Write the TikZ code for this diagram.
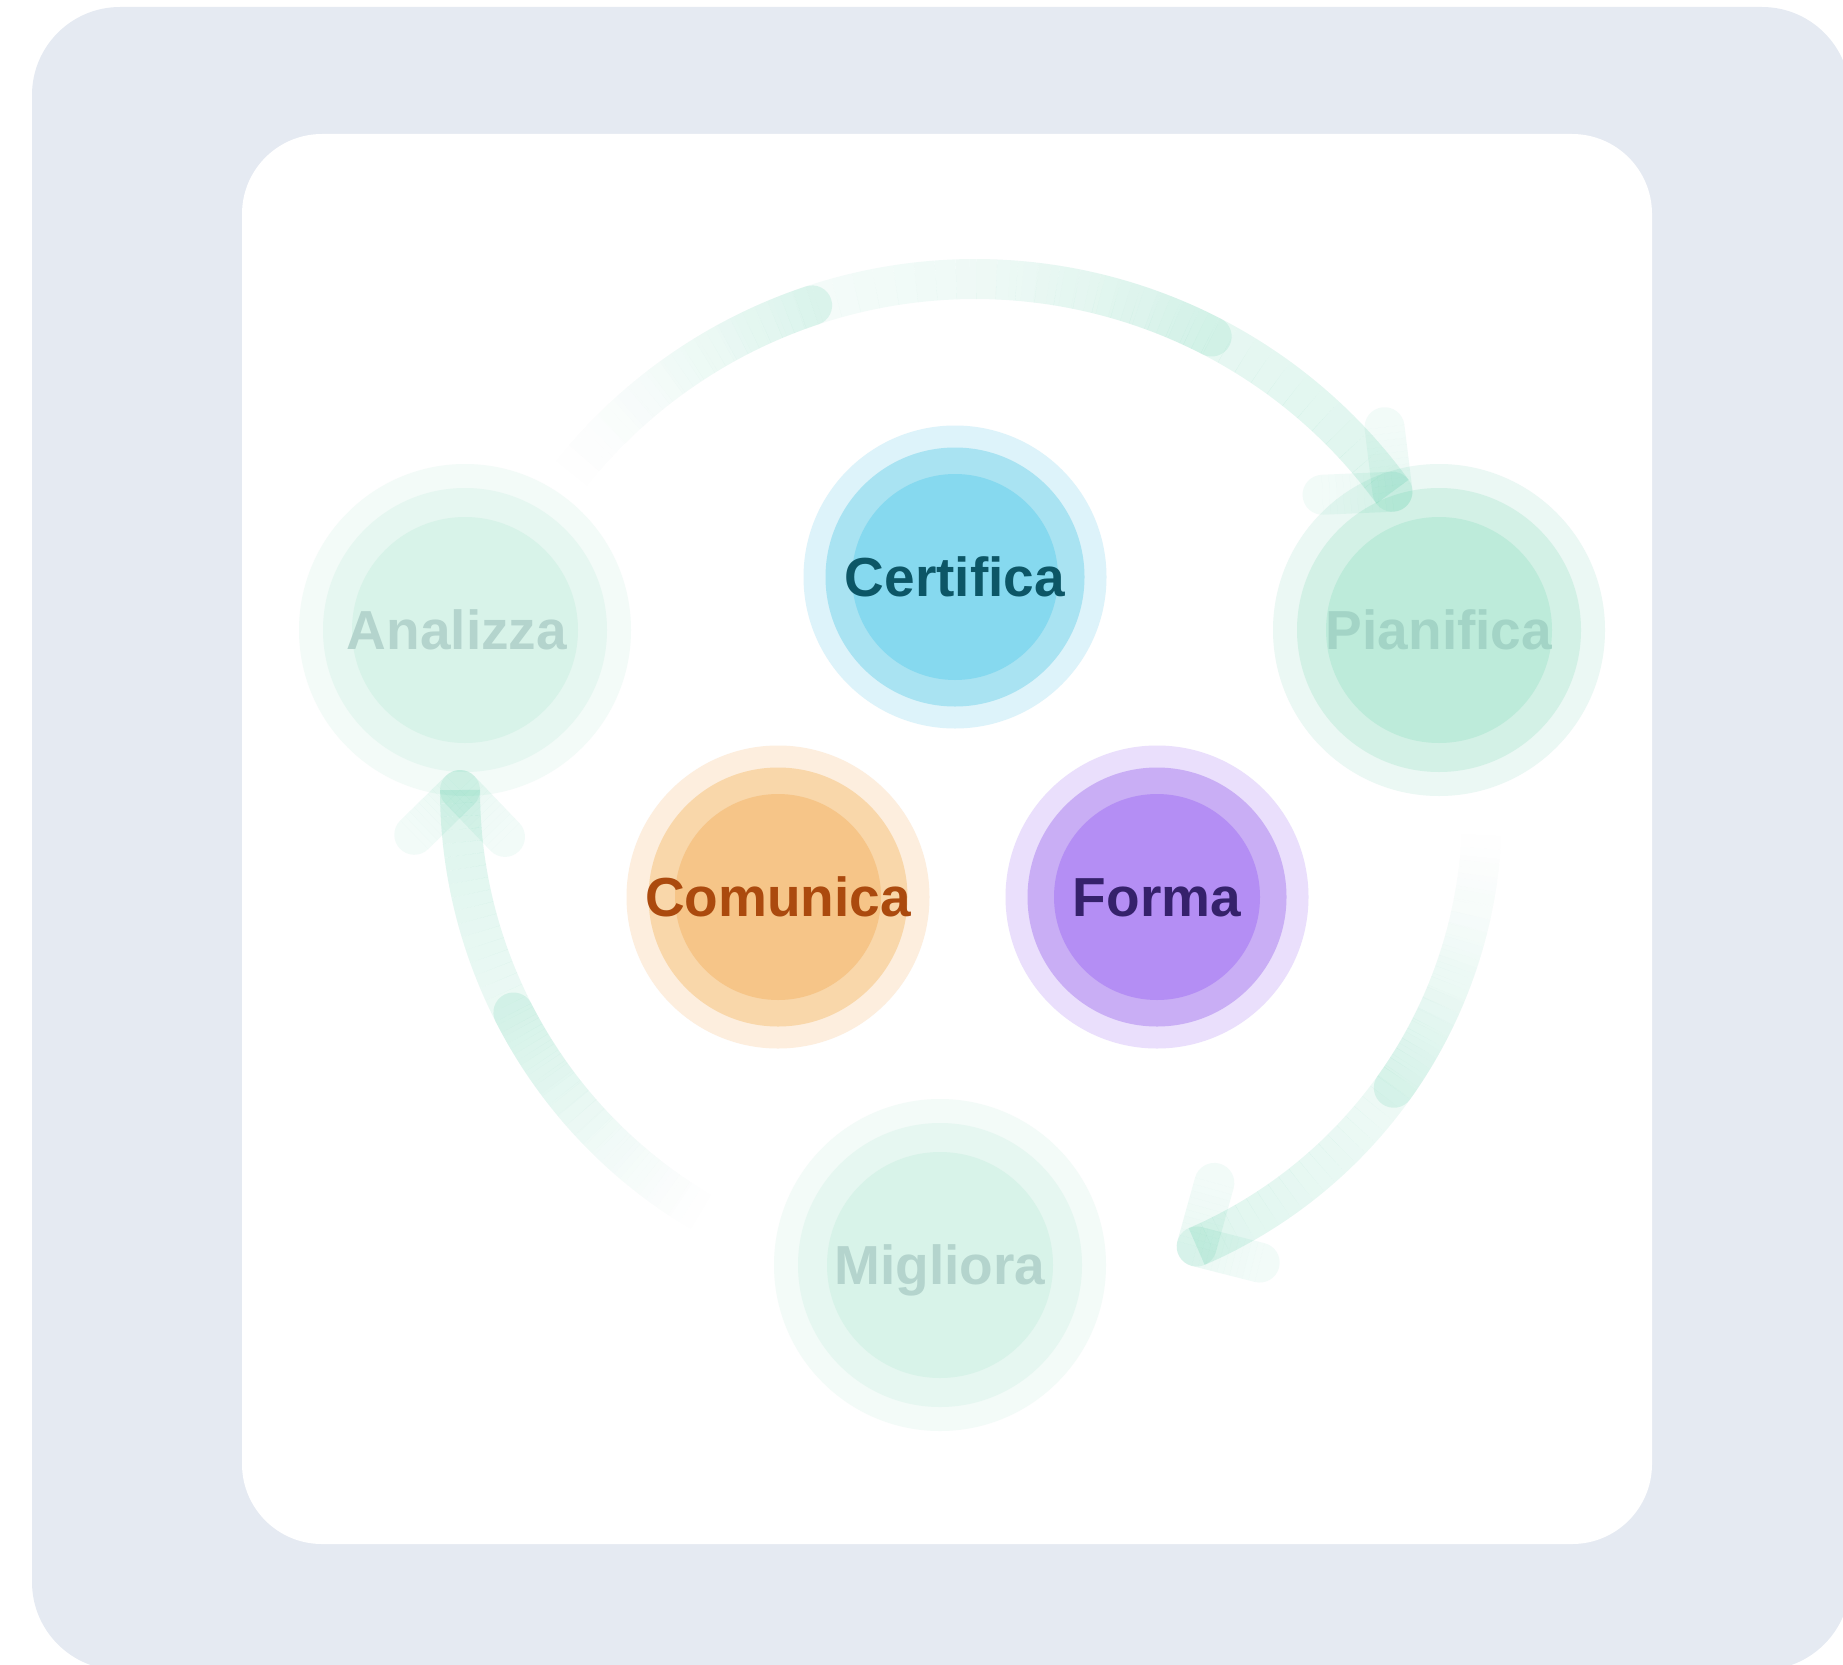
\documentclass[tikz,border=0pt]{standalone}
\usepackage{fontspec}
\setmainfont{Liberation Sans}
\usetikzlibrary{calc}
\definecolor{bgout}{HTML}{E5EAF2}
\definecolor{arcgreen}{HTML}{10B981}
\definecolor{cA}{HTML}{DDF3FA}\definecolor{cB}{HTML}{A9E3F2}\definecolor{cC}{HTML}{86D9EF}\definecolor{cT}{HTML}{0C5666}
\definecolor{oA}{HTML}{FDEEDE}\definecolor{oB}{HTML}{F9D7AA}\definecolor{oC}{HTML}{F6C588}\definecolor{oT}{HTML}{AB4A0E}
\definecolor{fA}{HTML}{EADFFC}\definecolor{fB}{HTML}{C9AEF5}\definecolor{fC}{HTML}{B48EF4}\definecolor{fT}{HTML}{35216B}
\definecolor{pA}{HTML}{EBF8F4}\definecolor{pB}{HTML}{D3F1E6}\definecolor{pC}{HTML}{BDEBDA}\definecolor{pT}{HTML}{A3D4C6}
\definecolor{gA}{HTML}{F3FBF8}\definecolor{gB}{HTML}{E6F7F1}\definecolor{gC}{HTML}{D8F3E9}\definecolor{gT}{HTML}{B4D4CD}
% gradient arc: center, radius, t1, t2, opacity1, opacity2, pieces, exponent
\newcommand\garc[8]{%
  \foreach \k in {1,...,#7}{%
    \pgfmathsetmacro\gTa{#3+(#4-#3)*(\k-1)/#7}%
    \pgfmathsetmacro\gTb{#3+(#4-#3)*\k/#7}%
    \pgfmathsetmacro\gOp{#5+(#6-#5)*((\k-0.5)/#7)^#8}%
    \draw[arcband, draw opacity=\gOp] (#1) ++(\gTa:#2) arc[start angle=\gTa, end angle=\gTb, radius=#2];%
  }%
}
% half-disc cap on an arc: center, radius, angle, opacity, direction (+1 forward, -1 backward)
\newcommand\gcap[5]{%
  \pgfmathsetmacro\gCe{#3+180*#5}%
  \fill[arcgreen, fill opacity=#4] (#1) ++(#3:#2) ++(#3:20) arc[start angle=#3, end angle=\gCe, radius=20] -- cycle;%
}
% gradient straight stroke from a tip: tip, angle, length, opacity at tip, opacity at free end
\newcommand\gline[5]{%
  \foreach \k in {1,...,10}{%
    \pgfmathsetmacro\gSa{#3*(\k-1)/10}%
    \pgfmathsetmacro\gSb{#3*\k/10}%
    \pgfmathsetmacro\gOp{#4+(#5-#4)*(\k-0.5)/10}%
    \draw[arcband, draw opacity=\gOp] ($(#1)+(#2:\gSa)$) -- ($(#1)+(#2:\gSb)$);%
  }%
  \pgfmathsetmacro\gAm{#2-90}\pgfmathsetmacro\gAp{#2+90}\pgfmathsetmacro\gApp{#2+270}%
  \fill[arcgreen, fill opacity=#5] ($(#1)+(#2:#3)$) ++(\gAm:20) arc[start angle=\gAm, end angle=\gAp, radius=20] -- cycle;%
  \fill[arcgreen, fill opacity=#4] (#1) ++(\gAp:20) arc[start angle=\gAp, end angle=\gApp, radius=20] -- cycle;%
}
\begin{document}
\begin{tikzpicture}[x=1pt,y=-1pt,
  arcband/.style={draw=arcgreen, line width=40pt, line cap=butt},
  ring/.style={circle, inner sep=0pt, draw=none},
  lbl/.style={font=\fontsize{55}{60}\selectfont\bfseries, inner sep=0pt, anchor=base}]
\path[use as bounding box] (0,0) rectangle (1843,1664);
\clip (0,0) rectangle (1843,1664);
% backgrounds
\fill[bgout, rounded corners=88pt] (32,7) rectangle (1850,1670);
\fill[white, rounded corners=80pt] (242,134) rectangle (1652,1544);
% small nodes
\node[ring, fill=cA, minimum size=303] (cert) at (955,577) {};
\node[ring, fill=cB, minimum size=259] at (cert) {};
\node[ring, fill=cC, minimum size=206] at (cert) {};
\node[lbl, text=cT] (certt) at (955,596.7) {Certifica};
\node[ring, fill=oA, minimum size=303] (comu) at (778,897) {};
\node[ring, fill=oB, minimum size=259] at (comu) {};
\node[ring, fill=oC, minimum size=206] at (comu) {};
\node[lbl, text=oT] (comut) at (778,916.7) {Comunica};
\node[ring, fill=fA, minimum size=303] (forma) at (1157,897) {};
\node[ring, fill=fB, minimum size=259] at (forma) {};
\node[ring, fill=fC, minimum size=206] at (forma) {};
\node[lbl, text=fT] (format) at (1157,916.7) {Forma};
% cycle nodes
\node[ring, fill=pA, minimum size=332] (pian) at (1439,630) {};
\node[ring, fill=pB, minimum size=284] at (pian) {};
\node[ring, fill=pC, minimum size=226] at (pian) {};
\node[lbl, text=pT] (piant) at (1439,649.7) {Pianifica};
\node[ring, fill=gA, minimum size=332] (anal) at (465,630) {};
\node[ring, fill=gB, minimum size=284] at (anal) {};
\node[ring, fill=gC, minimum size=226] at (anal) {};
\node[lbl, text=gT] (analt) at (457,649.7) {Analizza};
\node[ring, fill=gA, minimum size=332] (migl) at (940,1265) {};
\node[ring, fill=gB, minimum size=284] at (migl) {};
\node[ring, fill=gC, minimum size=226] at (migl) {};
\node[lbl, text=gT] (miglt) at (940,1284.7) {Migliora};
% arc centres and tips
\coordinate (ctop) at (975,795);
\coordinate (cright) at (1010,813);
\coordinate (cleft) at (950,790);
\path (ctop) ++(-36:516) coordinate (ttip);
\path (cright) ++(66.7:472) coordinate (rtip);
\path (cleft) ++(180:490) coordinate (ltip);
% top arc: Analizza -> Pianifica
\garc{ctop}{516}{-143.7}{-36}{0}{0.13}{48}{1}
\garc{ctop}{516}{-143.7}{-108.4}{0}{0.11}{24}{1.8}
\gcap{ctop}{516}{-108.4}{0.11}{1}
\garc{ctop}{516}{-95}{-62.7}{0}{0.10}{22}{1.8}
\gcap{ctop}{516}{-62.7}{0.10}{1}
\gline{ttip}{-97}{65}{0.085}{0.05}
\gline{ttip}{177.5}{70}{0.085}{0.05}
% right arc: Pianifica -> Migliora
\garc{cright}{472}{1}{66.7}{0}{0.13}{40}{1}
\garc{cright}{472}{1}{35.6}{0}{0.11}{24}{1.8}
\gcap{cright}{472}{35.6}{0.11}{1}
\gline{rtip}{-74.5}{66}{0.085}{0.05}
\gline{rtip}{14.3}{65}{0.085}{0.05}
% left arc: Migliora -> Analizza
\garc{cleft}{490}{119}{180}{0}{0.14}{40}{1}
\garc{cleft}{490}{119}{153}{0}{0.11}{24}{1.8}
\gcap{cleft}{490}{153}{0.11}{1}
\gline{ltip}{135.6}{64}{0.085}{0.05}
\gline{ltip}{46.2}{65}{0.085}{0.05}
\end{tikzpicture}
\end{document}
